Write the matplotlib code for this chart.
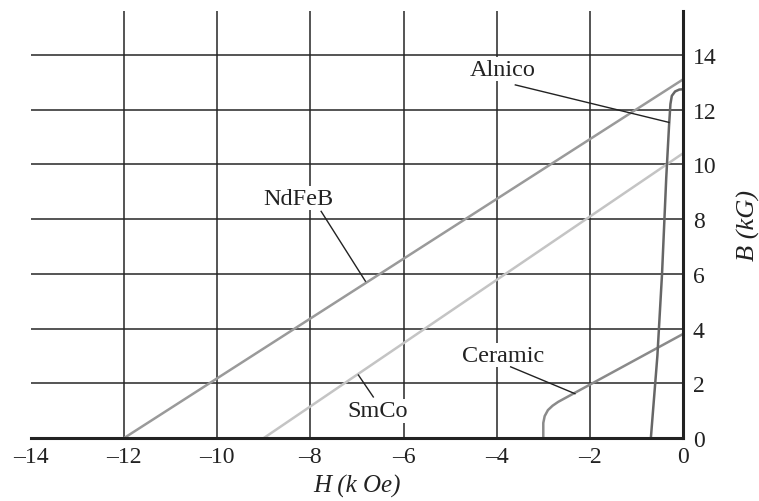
import matplotlib
matplotlib.use("Agg")
import matplotlib.pyplot as plt
import numpy as np

# Data (H in kOe, B in kG)
ndfeb_H = [-12.0, 0.0]
ndfeb_B = [0.0, 13.1]
smco_H = [-9.0, 0.0]
smco_B = [0.0, 10.4]
ceramic_H = [-3.0, -3.0, -2.97, -2.9, -2.8, -2.68, 0.0]
ceramic_B = [0.0, 0.55, 0.8, 1.02, 1.18, 1.32, 3.8]
alnico_H = [-0.69, -0.55, -0.45, -0.36, -0.30, -0.27, -0.24, -0.17, -0.08, 0.0]
alnico_B = [0.0, 3.0, 6.0, 9.5, 11.4, 12.2, 12.5, 12.66, 12.73, 12.74]

xticks = [-14, -12, -10, -8, -6, -4, -2, 0]
yticks = [0, 2, 4, 6, 8, 10, 12, 14]

serif = ["Liberation Serif", "DejaVu Serif"]
plt.rcParams['font.family'] = serif

fig = plt.figure(figsize=(7.59, 5.02), dpi=100)
ax = fig.add_axes([31/759, 1 - 439/502, (683-31)/759, (439-12)/502])

ax.set_xlim(-14, 0)
ax.set_ylim(0, 15.6)
ax.set_xticks(xticks)
ax.set_yticks(yticks)
ax.yaxis.tick_right()
ax.yaxis.set_label_position("right")
ax.tick_params(length=0, labelsize=17, colors="#222222")
ax.tick_params(axis="x", pad=6)
ax.tick_params(axis="y", pad=7)
ax.set_xticklabels(["\u2013" + str(abs(t)) if t < 0 else str(t) for t in xticks])

ax.grid(True, color="#262626", linewidth=1.1)
ax.set_axisbelow(True)
ax.xaxis.get_gridlines()[0].set_visible(False)
ax.yaxis.get_gridlines()[0].set_visible(False)

for s in ["top", "left"]:
    ax.spines[s].set_visible(False)
for s in ["right", "bottom"]:
    ax.spines[s].set_linewidth(2.2)
    ax.spines[s].set_color("#222222")

ax.plot(ndfeb_H, ndfeb_B, color="#9a9a9a", lw=1.8, solid_capstyle="butt")
ax.plot(smco_H, smco_B, color="#c4c4c4", lw=1.8, solid_capstyle="butt")
ax.plot(ceramic_H, ceramic_B, color="#8a8a8a", lw=1.8)
ax.plot(alnico_H, alnico_B, color="#666666", lw=1.8)

def label(text, tx, ty, x0, y0, x1, y1):
    ax.text(tx, ty, text, fontsize=17.5, ha="center", va="center", color="#222222",
            bbox=dict(facecolor="white", edgecolor="none", pad=1.0), zorder=5)
    ax.plot([x0, x1], [y0, y1], color="#222222", lw=1.0, zorder=6)

label("Alnico", -3.88, 13.47, -3.6, 12.9, -0.3, 11.53)
label("NdFeB", -8.26, 8.76, -7.77, 8.28, -6.82, 5.73)
label("SmCo", -6.55, 0.99, -6.97, 2.3, -6.65, 1.5)
label("Ceramic", -3.86, 3.03, -3.7, 2.6, -2.32, 1.62)

ax.set_xlabel("H (k Oe)", fontsize=18, fontstyle="italic", color="#222222", labelpad=5)
ax.set_ylabel("B (kG)", fontsize=19, fontstyle="italic", color="#222222", labelpad=15)

fig.savefig("out.png", dpi=100)
